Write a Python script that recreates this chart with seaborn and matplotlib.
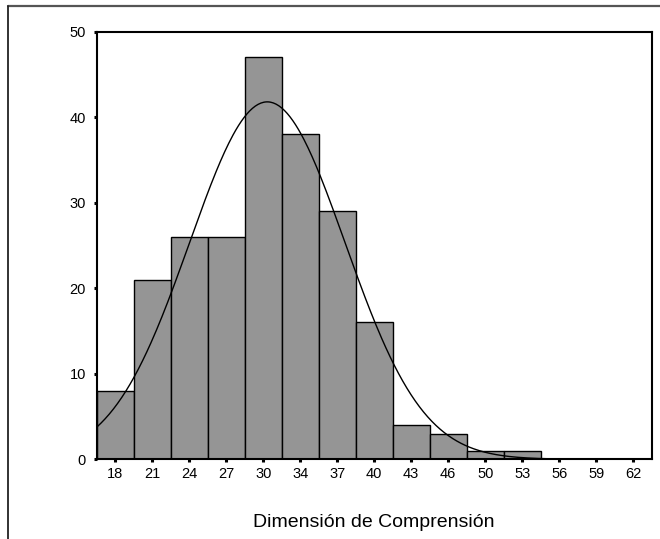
import numpy as np
import pandas as pd
import seaborn as sns
import matplotlib.pyplot as plt
from matplotlib.lines import Line2D

# histogram
tick_labels = ["18", "21", "24", "27", "30", "34", "37", "40", "43", "46", "50", "53", "56", "59", "62"]
counts = [8, 21, 26, 26, 47, 38, 29, 16, 4, 3, 1, 1, 0, 0, 0]
first_center, last_center = 18, 62

# fitted normal curve
curve_mean = 30.92
curve_sd = 6.60

sns.set_style("white")
plt.rcParams["font.family"] = ["Liberation Sans", "DejaVu Sans"]
plt.rcParams["text.color"] = "black"
plt.rcParams["axes.labelcolor"] = "black"
plt.rcParams["xtick.color"] = "black"
plt.rcParams["ytick.color"] = "black"

centers = np.linspace(first_center, last_center, len(counts))
width = centers[1] - centers[0]
lo, hi = centers[0] - width / 2, centers[-1] + width / 2
n_total = sum(counts)
df = pd.DataFrame({"center": centers, "count": counts})

fig = plt.figure(figsize=(6.6, 5.39), dpi=100)
ax = fig.add_axes([0.1465, 0.1479, 0.8409, 0.7933])

sns.histplot(data=df, x="center", weights="count", binwidth=width, binrange=(lo, hi),
             color="#959595", edgecolor="black", linewidth=1, alpha=1, ax=ax)

xs = np.linspace(lo, hi, 400)
ys = n_total * width / (curve_sd * np.sqrt(2 * np.pi)) * np.exp(-0.5 * ((xs - curve_mean) / curve_sd) ** 2)
sns.lineplot(x=xs, y=ys, color="black", linewidth=1, ax=ax)

ax.set_xlim(lo, hi)
ax.set_ylim(0, 50)
ax.set_xticks(centers)
ax.set_xticklabels(tick_labels)
ax.set_yticks([0, 10, 20, 30, 40, 50])
ax.tick_params(axis="both", direction="out", length=2.2, width=2.2, labelsize=10.5,
               color="black", labelcolor="black", bottom=True, left=True)
ax.tick_params(axis="y", pad=5.6)
ax.tick_params(axis="x", pad=3)
for s in ax.spines.values():
    s.set_visible(True)
    s.set_color("black")
    s.set_linewidth(1.5)

ax.set_ylabel("")
ax.set_xlabel("Dimensión de Comprensión", fontsize=14, color="black")
ax.xaxis.set_label_coords(0.5, -0.127)

# outer frame (top and left only, as in the export)
fig.add_artist(Line2D([8 / 660, 1], [1 - 6 / 539, 1 - 6 / 539], color="#555555", linewidth=1.6))
fig.add_artist(Line2D([8 / 660, 8 / 660], [0, 1 - 6 / 539], color="#222222", linewidth=1.3))

fig.savefig("out.png", dpi=100)
